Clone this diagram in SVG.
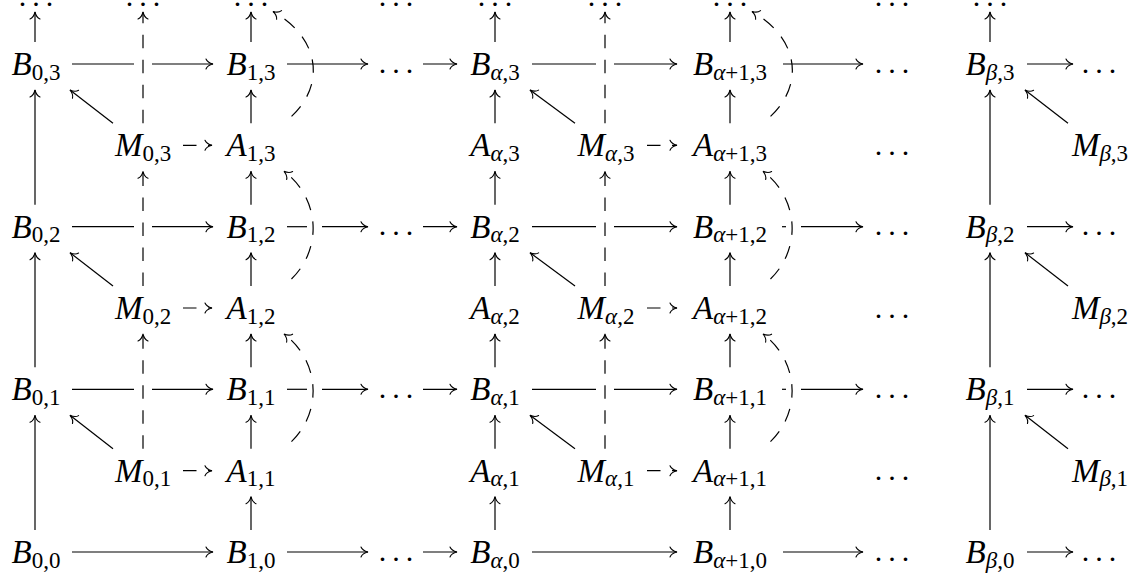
<svg xmlns="http://www.w3.org/2000/svg" width="1141" height="573" viewBox="0 0 1141 573">
<defs>
<style>
.t{font-family:"Liberation Serif","Times New Roman",serif;font-size:33px;fill:#000;text-anchor:middle}
.i{font-style:italic}
.s{font-size:23px}
.dt{font-family:"Liberation Serif","Times New Roman",serif;font-size:30px;fill:#000;text-anchor:middle;letter-spacing:6px}
.ln{stroke:#000;stroke-width:1.2;fill:none}
.a{marker-end:url(#ah)}
.d{stroke-dasharray:13.5 11.5}
.cv{stroke-dashoffset:14}
</style>
<marker id="ah" markerUnits="userSpaceOnUse" viewBox="-8 -6 9 12" refX="0" refY="0" markerWidth="9" markerHeight="12" orient="auto" overflow="visible">
<path d="M -7,-5 C -6,-2.5 -2.5,-0.6 0,0 C -2.5,0.6 -6,2.5 -7,5" fill="none" stroke="#000" stroke-width="1.1" stroke-linecap="round" stroke-dasharray="none"/>
</marker>
</defs>
<rect width="1141" height="573" fill="#fff"/>

<g id="connectors">
<line class="ln a" x1="35" y1="530" x2="35" y2="415.3"/>
<line class="ln a" x1="35" y1="367.3" x2="35" y2="252.7"/>
<line class="ln a" x1="35" y1="204.7" x2="35" y2="90"/>
<line class="ln a" x1="35" y1="42" x2="35" y2="12"/>
<line class="ln a" x1="990" y1="530" x2="990" y2="415.3"/>
<line class="ln a" x1="990" y1="367.3" x2="990" y2="252.7"/>
<line class="ln a" x1="990" y1="204.7" x2="990" y2="90"/>
<line class="ln a" x1="990" y1="42" x2="990" y2="12"/>
<line class="ln a" x1="251" y1="530" x2="251" y2="496.7"/>
<line class="ln a" x1="251" y1="448.7" x2="251" y2="415.3"/>
<line class="ln a" x1="251" y1="367.3" x2="251" y2="334"/>
<line class="ln a" x1="251" y1="286" x2="251" y2="252.7"/>
<line class="ln a" x1="251" y1="204.7" x2="251" y2="171.3"/>
<line class="ln a" x1="251" y1="123.3" x2="251" y2="90"/>
<line class="ln a" x1="251" y1="42" x2="251" y2="12"/>
<line class="ln a" x1="495" y1="530" x2="495" y2="496.7"/>
<line class="ln a" x1="495" y1="448.7" x2="495" y2="415.3"/>
<line class="ln a" x1="495" y1="367.3" x2="495" y2="334"/>
<line class="ln a" x1="495" y1="286" x2="495" y2="252.7"/>
<line class="ln a" x1="495" y1="204.7" x2="495" y2="171.3"/>
<line class="ln a" x1="495" y1="123.3" x2="495" y2="90"/>
<line class="ln a" x1="495" y1="42" x2="495" y2="12"/>
<line class="ln a" x1="730" y1="530" x2="730" y2="496.7"/>
<line class="ln a" x1="730" y1="448.7" x2="730" y2="415.3"/>
<line class="ln a" x1="730" y1="367.3" x2="730" y2="334"/>
<line class="ln a" x1="730" y1="286" x2="730" y2="252.7"/>
<line class="ln a" x1="730" y1="204.7" x2="730" y2="171.3"/>
<line class="ln a" x1="730" y1="123.3" x2="730" y2="90"/>
<line class="ln a" x1="730" y1="42" x2="730" y2="12"/>
<line class="ln a d" x1="143" y1="448.7" x2="143" y2="334"/>
<line class="ln a d" x1="143" y1="286" x2="143" y2="171.3"/>
<line class="ln a d" x1="143" y1="123.3" x2="143" y2="12"/>
<line class="ln a d" x1="605" y1="448.7" x2="605" y2="334"/>
<line class="ln a d" x1="605" y1="286" x2="605" y2="171.3"/>
<line class="ln a d" x1="605" y1="123.3" x2="605" y2="12"/>
<line class="ln a" x1="113" y1="448.7" x2="70" y2="415.3"/>
<line class="ln a" x1="113" y1="286" x2="70" y2="252.7"/>
<line class="ln a" x1="113" y1="123.3" x2="70" y2="90"/>
<line class="ln a" x1="575" y1="448.7" x2="530" y2="415.3"/>
<line class="ln a" x1="575" y1="286" x2="530" y2="252.7"/>
<line class="ln a" x1="575" y1="123.3" x2="530" y2="90"/>
<line class="ln a" x1="1068" y1="448.7" x2="1025" y2="415.3"/>
<line class="ln a" x1="1068" y1="286" x2="1025" y2="252.7"/>
<line class="ln a" x1="1068" y1="123.3" x2="1025" y2="90"/>
<line class="ln a d" x1="183" y1="470.7" x2="212" y2="470.7"/>
<line class="ln a d" x1="183" y1="308" x2="212" y2="308"/>
<line class="ln a d" x1="183" y1="145.3" x2="212" y2="145.3"/>
<line class="ln a d" x1="647" y1="470.7" x2="677" y2="470.7"/>
<line class="ln a d" x1="647" y1="308" x2="677" y2="308"/>
<line class="ln a d" x1="647" y1="145.3" x2="677" y2="145.3"/>
<path class="ln a d cv" d="M 283,448.7 C 323,420 323,363 284,334"/>
<path class="ln a d cv" d="M 283,286 C 323,257.3 323,200.3 284,171.3"/>
<path class="ln a d cv" d="M 283,123.3 C 325,93 325,41 273,11.5"/>
<path class="ln a d cv" d="M 762,448.7 C 802,420 802,363 763,334"/>
<path class="ln a d cv" d="M 762,286 C 802,257.3 802,200.3 763,171.3"/>
<path class="ln a d cv" d="M 762,123.3 C 804,93 804,41 752,11.5"/>
<line class="ln a" x1="72" y1="552" x2="213" y2="552"/>
<line class="ln a" x1="287" y1="552" x2="368" y2="552"/>
<line class="ln a" x1="423" y1="552" x2="457" y2="552"/>
<line class="ln a" x1="532" y1="552" x2="677" y2="552"/>
<line class="ln a" x1="783" y1="552" x2="863" y2="552"/>
<line class="ln a" x1="1027" y1="552" x2="1073" y2="552"/>
<line class="ln" x1="72" y1="389.3" x2="134" y2="389.3"/>
<line class="ln a" x1="152" y1="389.3" x2="213" y2="389.3"/>
<line class="ln" x1="287" y1="389.3" x2="307" y2="389.3"/>
<line class="ln a" x1="322" y1="389.3" x2="368" y2="389.3"/>
<line class="ln a" x1="423" y1="389.3" x2="457" y2="389.3"/>
<line class="ln" x1="532" y1="389.3" x2="596" y2="389.3"/>
<line class="ln a" x1="614" y1="389.3" x2="677" y2="389.3"/>
<line class="ln" x1="782" y1="389.3" x2="786" y2="389.3"/>
<line class="ln a" x1="801" y1="389.3" x2="863" y2="389.3"/>
<line class="ln a" x1="1027" y1="389.3" x2="1073" y2="389.3"/>
<line class="ln" x1="72" y1="226.7" x2="134" y2="226.7"/>
<line class="ln a" x1="152" y1="226.7" x2="213" y2="226.7"/>
<line class="ln" x1="287" y1="226.7" x2="307" y2="226.7"/>
<line class="ln a" x1="322" y1="226.7" x2="368" y2="226.7"/>
<line class="ln a" x1="423" y1="226.7" x2="457" y2="226.7"/>
<line class="ln" x1="532" y1="226.7" x2="596" y2="226.7"/>
<line class="ln a" x1="614" y1="226.7" x2="677" y2="226.7"/>
<line class="ln" x1="782" y1="226.7" x2="786" y2="226.7"/>
<line class="ln a" x1="801" y1="226.7" x2="863" y2="226.7"/>
<line class="ln a" x1="1027" y1="226.7" x2="1073" y2="226.7"/>
<line class="ln" x1="72" y1="64" x2="134" y2="64"/>
<line class="ln a" x1="152" y1="64" x2="213" y2="64"/>
<line class="ln a" x1="287" y1="64" x2="368" y2="64"/>
<line class="ln a" x1="423" y1="64" x2="457" y2="64"/>
<line class="ln" x1="532" y1="64" x2="596" y2="64"/>
<line class="ln a" x1="614" y1="64" x2="677" y2="64"/>
<line class="ln a" x1="783" y1="64" x2="863" y2="64"/>
<line class="ln a" x1="1027" y1="64" x2="1073" y2="64"/>
</g>

<g id="top-0"><text class="dt" x="39" y="6">...</text></g>
<g id="top-m0"><text class="dt" x="146" y="6">...</text></g>
<g id="top-1"><text class="dt" x="254" y="6">...</text></g>
<g id="top-d1"><text class="dt" x="399" y="6">...</text></g>
<g id="top-a"><text class="dt" x="498" y="6">...</text></g>
<g id="top-ma"><text class="dt" x="608" y="6">...</text></g>
<g id="top-a1"><text class="dt" x="733" y="6">...</text></g>
<g id="top-d2"><text class="dt" x="895" y="6">...</text></g>
<g id="top-b"><text class="dt" x="993" y="6">...</text></g>

<g id="B03"><text class="t" x="36" y="75"><tspan class="i">B</tspan><tspan class="s" dy="4.5">0,3</tspan></text></g>
<g id="B13"><text class="t" x="251" y="75"><tspan class="i">B</tspan><tspan class="s" dy="4.5">1,3</tspan></text></g>
<g id="D13"><text class="dt" x="399" y="72.5">...</text></g>
<g id="Ba3"><text class="t" x="495" y="75"><tspan class="i">B</tspan><tspan class="s" dy="4.5"><tspan class="i">α</tspan>,3</tspan></text></g>
<g id="Ba13"><text class="t" x="730" y="75"><tspan class="i">B</tspan><tspan class="s" dy="4.5"><tspan class="i">α</tspan>+1,3</tspan></text></g>
<g id="D23"><text class="dt" x="895" y="72.5">...</text></g>
<g id="Bb3"><text class="t" x="990" y="75"><tspan class="i">B</tspan><tspan class="s" dy="4.5"><tspan class="i">β</tspan>,3</tspan></text></g>
<g id="D33"><text class="dt" x="1102" y="72.5">...</text></g>

<g id="M03"><text class="t" x="143" y="156.3"><tspan class="i">M</tspan><tspan class="s" dy="4.5">0,3</tspan></text></g>
<g id="A13"><text class="t" x="251" y="156.3"><tspan class="i">A</tspan><tspan class="s" dy="4.5">1,3</tspan></text></g>
<g id="Aa3"><text class="t" x="495" y="156.3"><tspan class="i">A</tspan><tspan class="s" dy="4.5"><tspan class="i">α</tspan>,3</tspan></text></g>
<g id="Ma3"><text class="t" x="606" y="156.3"><tspan class="i">M</tspan><tspan class="s" dy="4.5"><tspan class="i">α</tspan>,3</tspan></text></g>
<g id="Aa13"><text class="t" x="730" y="156.3"><tspan class="i">A</tspan><tspan class="s" dy="4.5"><tspan class="i">α</tspan>+1,3</tspan></text></g>
<g id="DM3"><text class="dt" x="895" y="154.8">...</text></g>
<g id="Mb3"><text class="t" x="1100" y="156.3"><tspan class="i">M</tspan><tspan class="s" dy="4.5"><tspan class="i">β</tspan>,3</tspan></text></g>

<g id="B02"><text class="t" x="36" y="237.7"><tspan class="i">B</tspan><tspan class="s" dy="4.5">0,2</tspan></text></g>
<g id="B12"><text class="t" x="251" y="237.7"><tspan class="i">B</tspan><tspan class="s" dy="4.5">1,2</tspan></text></g>
<g id="D12"><text class="dt" x="399" y="235.2">...</text></g>
<g id="Ba2"><text class="t" x="495" y="237.7"><tspan class="i">B</tspan><tspan class="s" dy="4.5"><tspan class="i">α</tspan>,2</tspan></text></g>
<g id="Ba12"><text class="t" x="730" y="237.7"><tspan class="i">B</tspan><tspan class="s" dy="4.5"><tspan class="i">α</tspan>+1,2</tspan></text></g>
<g id="D22"><text class="dt" x="895" y="235.2">...</text></g>
<g id="Bb2"><text class="t" x="990" y="237.7"><tspan class="i">B</tspan><tspan class="s" dy="4.5"><tspan class="i">β</tspan>,2</tspan></text></g>
<g id="D32"><text class="dt" x="1102" y="235.2">...</text></g>

<g id="M02"><text class="t" x="143" y="319"><tspan class="i">M</tspan><tspan class="s" dy="4.5">0,2</tspan></text></g>
<g id="A12"><text class="t" x="251" y="319"><tspan class="i">A</tspan><tspan class="s" dy="4.5">1,2</tspan></text></g>
<g id="Aa2"><text class="t" x="495" y="319"><tspan class="i">A</tspan><tspan class="s" dy="4.5"><tspan class="i">α</tspan>,2</tspan></text></g>
<g id="Ma2"><text class="t" x="606" y="319"><tspan class="i">M</tspan><tspan class="s" dy="4.5"><tspan class="i">α</tspan>,2</tspan></text></g>
<g id="Aa12"><text class="t" x="730" y="319"><tspan class="i">A</tspan><tspan class="s" dy="4.5"><tspan class="i">α</tspan>+1,2</tspan></text></g>
<g id="DM2"><text class="dt" x="895" y="317.5">...</text></g>
<g id="Mb2"><text class="t" x="1100" y="319"><tspan class="i">M</tspan><tspan class="s" dy="4.5"><tspan class="i">β</tspan>,2</tspan></text></g>

<g id="B01"><text class="t" x="36" y="400.3"><tspan class="i">B</tspan><tspan class="s" dy="4.5">0,1</tspan></text></g>
<g id="B11"><text class="t" x="251" y="400.3"><tspan class="i">B</tspan><tspan class="s" dy="4.5">1,1</tspan></text></g>
<g id="D11"><text class="dt" x="399" y="397.8">...</text></g>
<g id="Ba1"><text class="t" x="495" y="400.3"><tspan class="i">B</tspan><tspan class="s" dy="4.5"><tspan class="i">α</tspan>,1</tspan></text></g>
<g id="Ba11"><text class="t" x="730" y="400.3"><tspan class="i">B</tspan><tspan class="s" dy="4.5"><tspan class="i">α</tspan>+1,1</tspan></text></g>
<g id="D21"><text class="dt" x="895" y="397.8">...</text></g>
<g id="Bb1"><text class="t" x="990" y="400.3"><tspan class="i">B</tspan><tspan class="s" dy="4.5"><tspan class="i">β</tspan>,1</tspan></text></g>
<g id="D31"><text class="dt" x="1102" y="397.8">...</text></g>

<g id="M01"><text class="t" x="143" y="481.7"><tspan class="i">M</tspan><tspan class="s" dy="4.5">0,1</tspan></text></g>
<g id="A11"><text class="t" x="251" y="481.7"><tspan class="i">A</tspan><tspan class="s" dy="4.5">1,1</tspan></text></g>
<g id="Aa1"><text class="t" x="495" y="481.7"><tspan class="i">A</tspan><tspan class="s" dy="4.5"><tspan class="i">α</tspan>,1</tspan></text></g>
<g id="Ma1"><text class="t" x="606" y="481.7"><tspan class="i">M</tspan><tspan class="s" dy="4.5"><tspan class="i">α</tspan>,1</tspan></text></g>
<g id="Aa11"><text class="t" x="730" y="481.7"><tspan class="i">A</tspan><tspan class="s" dy="4.5"><tspan class="i">α</tspan>+1,1</tspan></text></g>
<g id="DM1"><text class="dt" x="895" y="480.2">...</text></g>
<g id="Mb1"><text class="t" x="1100" y="481.7"><tspan class="i">M</tspan><tspan class="s" dy="4.5"><tspan class="i">β</tspan>,1</tspan></text></g>

<g id="B00"><text class="t" x="36" y="563"><tspan class="i">B</tspan><tspan class="s" dy="4.5">0,0</tspan></text></g>
<g id="B10"><text class="t" x="251" y="563"><tspan class="i">B</tspan><tspan class="s" dy="4.5">1,0</tspan></text></g>
<g id="D10"><text class="dt" x="399" y="560.5">...</text></g>
<g id="Ba0"><text class="t" x="495" y="563"><tspan class="i">B</tspan><tspan class="s" dy="4.5"><tspan class="i">α</tspan>,0</tspan></text></g>
<g id="Ba10"><text class="t" x="730" y="563"><tspan class="i">B</tspan><tspan class="s" dy="4.5"><tspan class="i">α</tspan>+1,0</tspan></text></g>
<g id="D20"><text class="dt" x="895" y="560.5">...</text></g>
<g id="Bb0"><text class="t" x="990" y="563"><tspan class="i">B</tspan><tspan class="s" dy="4.5"><tspan class="i">β</tspan>,0</tspan></text></g>
<g id="D30"><text class="dt" x="1102" y="560.5">...</text></g>
</svg>
